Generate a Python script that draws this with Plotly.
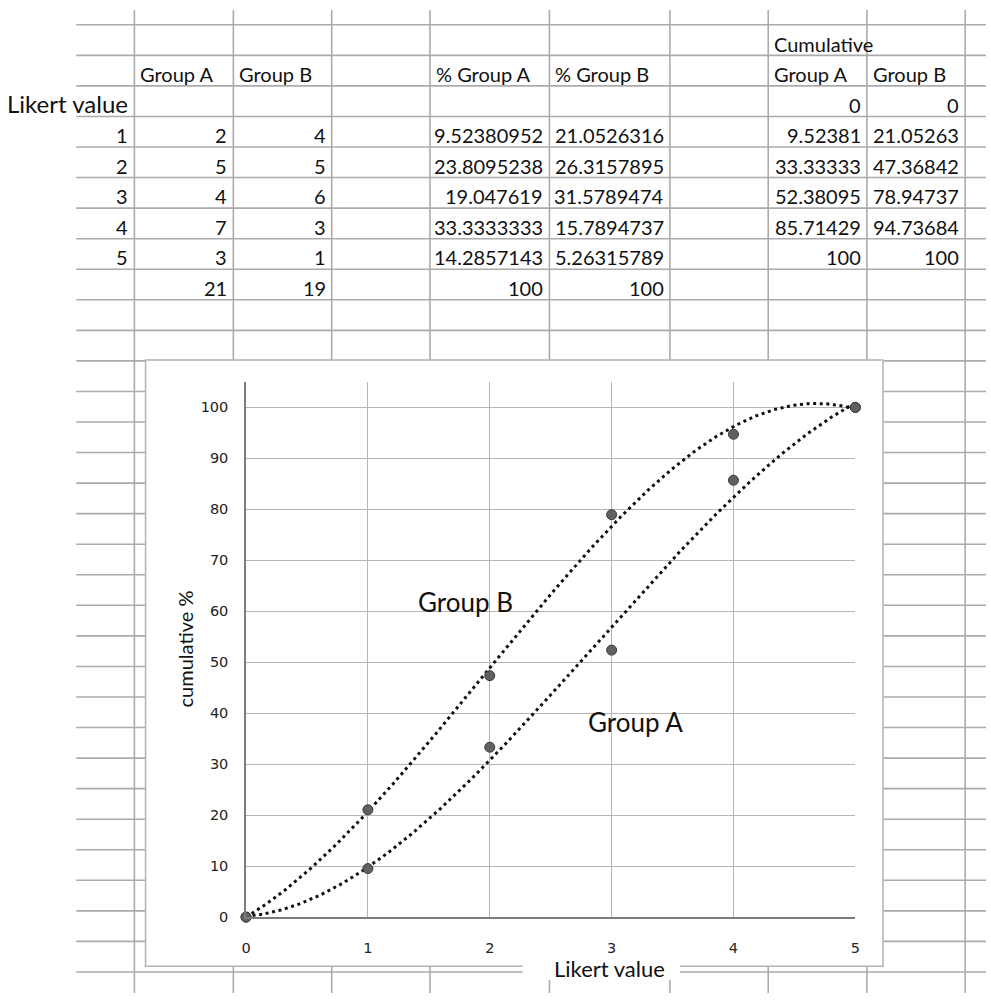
import numpy as np
import plotly.graph_objects as go

W, H = 991, 1001

# ---- sheet data ----
likert = [0, 1, 2, 3, 4, 5]
likert_rows = [1, 2, 3, 4, 5]
count_a = [2, 5, 4, 7, 3]
count_b = [4, 5, 6, 3, 1]
total_a, total_b = 21, 19
pct_a = [9.52380952, 23.8095238, 19.047619, 33.3333333, 14.2857143]
pct_b = [21.0526316, 26.3157895, 31.5789474, 15.7894737, 5.26315789]
pct_total_a, pct_total_b = 100, 100
cum_a = [0, 9.52381, 33.33333, 52.38095, 85.71429, 100]
cum_b = [0, 21.05263, 47.36842, 78.94737, 94.73684, 100]

y_ticks = [0, 10, 20, 30, 40, 50, 60, 70, 80, 90, 100]
x_ticks = [0, 1, 2, 3, 4, 5]

# ---- sheet geometry (pixels) ----
col_edges = [72, 130.7, 230.7, 330, 429.3, 550, 671.7, 771, 870.7, 970, 991]
row_top = 25.0
row_h = 30.8
n_rows = 32
chart_box = (142, 363, 887, 974)
plot_left, plot_right = 243.5, 859.0
plot_top, plot_bottom = 385.0, 924.5

SHEET_FONT = "Lato"
GRID_COLOR = "#ababab"


def px(x):
    return x / W


def py(y):
    return 1 - y / H


def row_mid(r):
    return row_top + row_h * r + row_h / 2 + 3.5


annotations = []


def cell(text, col, row, align="right", size=20):
    if align == "right":
        x = col_edges[col + 1] - 4
        anchor = "right"
    else:
        x = col_edges[col] + 4
        anchor = "left"
    annotations.append(dict(
        text=str(text), x=px(x), y=py(row_mid(row)), xref="paper", yref="paper",
        xanchor=anchor, yanchor="middle", showarrow=False,
        font=dict(family=SHEET_FONT, size=size, color="#111111"),
    ))


# header rows
cell("Cumulative", 7, 0, "left")
for col, label in [(1, "Group A"), (2, "Group B"), (4, "% Group A"),
                   (5, "% Group B"), (7, "Group A"), (8, "Group B")]:
    cell(label, col, 1, "left")

annotations.append(dict(
    text="Likert value", x=px(0), y=py(row_mid(2) - 1), xref="paper", yref="paper",
    xanchor="left", yanchor="middle", showarrow=False,
    font=dict(family=SHEET_FONT, size=24, color="#111111"),
))
cell(f"{cum_a[0]:.7g}", 7, 2)
cell(f"{cum_b[0]:.7g}", 8, 2)

# data rows
for i, lv in enumerate(likert_rows):
    r = 3 + i
    cell(lv, 0, r)
    cell(count_a[i], 1, r)
    cell(count_b[i], 2, r)
    cell(f"{pct_a[i]:.9g}", 4, r)
    cell(f"{pct_b[i]:.9g}", 5, r)
    cell(f"{cum_a[i + 1]:.7g}", 7, r)
    cell(f"{cum_b[i + 1]:.7g}", 8, r)

# totals
cell(total_a, 1, 8)
cell(total_b, 2, 8)
cell(pct_total_a, 4, 8)
cell(pct_total_b, 5, 8)

# chart text boxes
annotations += [
    dict(text="Group B", x=px(465.5), y=py(607), xref="paper", yref="paper",
         showarrow=False, xanchor="center", yanchor="middle",
         font=dict(family=SHEET_FONT, size=26, color="#111111")),
    dict(text="Group A", x=px(636.5), y=py(728), xref="paper", yref="paper",
         showarrow=False, xanchor="center", yanchor="middle",
         font=dict(family=SHEET_FONT, size=26, color="#111111")),
    dict(text="cumulative %", x=px(181.5), y=py(654), xref="paper", yref="paper",
         showarrow=False, xanchor="center", yanchor="middle", textangle=-90,
         font=dict(family=SHEET_FONT, size=20, color="#111111")),
    dict(text="Likert value", x=px(611), y=py(976), xref="paper", yref="paper",
         showarrow=False, xanchor="center", yanchor="middle", borderpad=0,
         font=dict(family=SHEET_FONT, size=22, color="#111111")),
]

# ---- spreadsheet grid, chart frame ----
shapes = []
for k in range(n_rows):
    y = row_top + row_h * k
    shapes.append(dict(type="line", xref="paper", yref="paper", layer="below",
                       x0=px(col_edges[0]), x1=px(W), y0=py(y), y1=py(y),
                       line=dict(color=GRID_COLOR, width=1.6)))
for x in col_edges[1:-1]:
    shapes.append(dict(type="line", xref="paper", yref="paper", layer="below",
                       x0=px(x), x1=px(x), y0=py(10), y1=py(H),
                       line=dict(color=GRID_COLOR, width=1.6)))
cx0, cy0, cx1, cy1 = chart_box
shapes.append(dict(type="rect", xref="paper", yref="paper", layer="below",
                   x0=px(cx0), x1=px(cx1), y0=py(cy1), y1=py(cy0),
                   fillcolor="white", line=dict(color="#b3b3b3", width=1.5)))
shapes.append(dict(type="rect", xref="paper", yref="paper", layer="below",
                   x0=px(523), x1=px(682), y0=py(988), y1=py(961),
                   fillcolor="white", line=dict(width=0)))

# ---- chart ----
fig = go.Figure()
xs = np.linspace(0, 5, 300)
for cum in (cum_b, cum_a):
    coeffs = np.polyfit(likert, cum, 3)
    fig.add_trace(go.Scatter(
        x=xs, y=np.polyval(coeffs, xs), mode="lines",
        line=dict(color="#111111", width=3, dash="3px,3.6px"),
        hoverinfo="skip", showlegend=False,
    ))
for cum in (cum_b, cum_a):
    fig.add_trace(go.Scatter(
        x=likert, y=cum, mode="markers", cliponaxis=False,
        marker=dict(size=10, color="#606060", line=dict(color="#3a3a3a", width=1)),
        showlegend=False,
    ))

tick_font = dict(family="DejaVu Sans", size=14.5, color="#222222")
fig.update_layout(
    width=W, height=H,
    margin=dict(l=0, r=0, t=0, b=0),
    paper_bgcolor="white",
    plot_bgcolor="rgba(0,0,0,0)",
    showlegend=False,
    shapes=shapes,
    annotations=annotations,
    xaxis=dict(
        domain=[px(plot_left), px(plot_right)], range=[0, 5],
        tickvals=x_ticks, ticks="", tickfont=tick_font, ticklabelstandoff=17,
        showgrid=True, gridcolor="#b5b5b5", gridwidth=1.3,
        showline=True, linecolor="#7d7d7d", linewidth=1.6,
        zeroline=False, fixedrange=True,
    ),
    yaxis=dict(
        domain=[py(plot_bottom), py(plot_top)], range=[0, 105],
        tickvals=y_ticks, ticks="", tickfont=tick_font, ticklabelstandoff=13,
        showgrid=True, gridcolor="#b5b5b5", gridwidth=1.3,
        showline=True, linecolor="#7d7d7d", linewidth=1.6,
        zeroline=False, fixedrange=True,
    ),
)

fig.write_html("out.html", config={"displayModeBar": False})
